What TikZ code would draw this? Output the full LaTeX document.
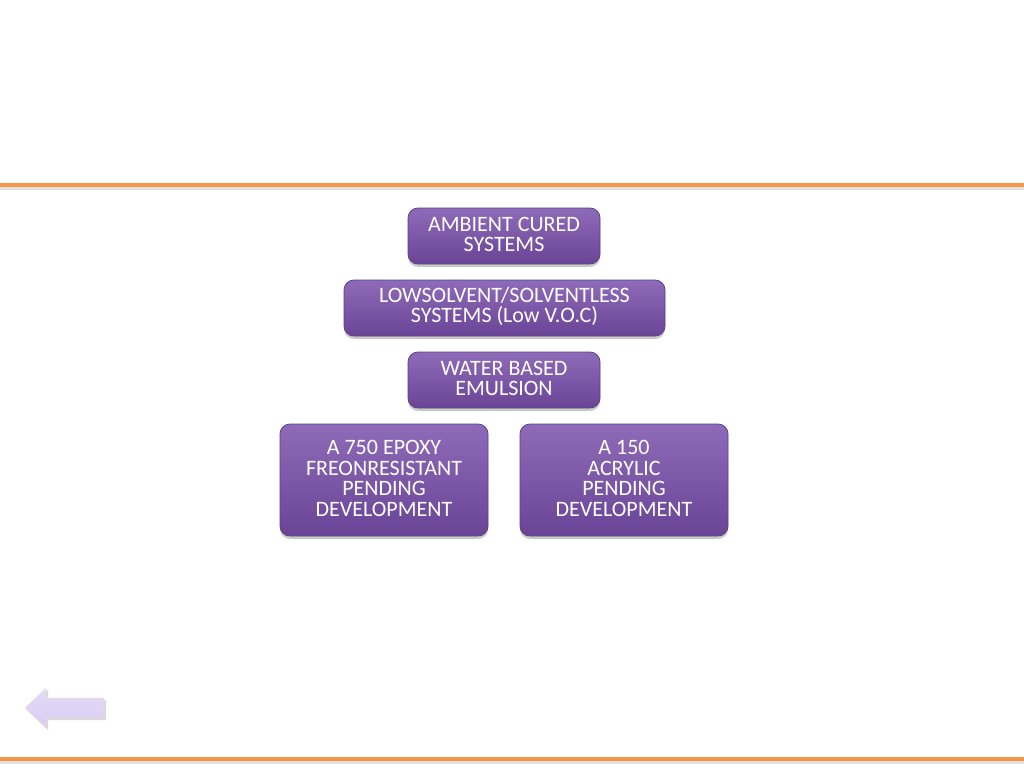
\documentclass[tikz,border=0pt]{standalone}
\usepackage{fontspec}
\setmainfont{Carlito}
\usetikzlibrary{shadows}
\definecolor{orangeline}{HTML}{F79646}
\definecolor{purpletop}{HTML}{8E6BB8}
\definecolor{purplebot}{HTML}{6A4496}
\definecolor{purpleedge}{HTML}{5E3F86}
\definecolor{arrowfill}{HTML}{D9CCF2}
\tikzset{
  box/.style={draw=purpleedge, line width=0.8pt, rounded corners=10pt,
    top color=purpletop, bottom color=purplebot, inner sep=0pt,
    drop shadow={shadow xshift=0pt, shadow yshift=-3pt, opacity=0.35, fill=black!60}},
  boxtext/.style={text=white, align=center, inner sep=0pt,
    font=\fontsize{22}{20.5}\selectfont},
  rule/.style={orangeline, line width=4pt}
}
\begin{document}
\begin{tikzpicture}[x=1pt,y=-1pt]
\useasboundingbox (0,0) rectangle (1024,768);
\fill[white] (0,0) rectangle (1024,768);
% orange rules
\fill[black!12] (0,187) rectangle (1024,190);
\draw[rule] (0,185) -- (1024,185);
\fill[black!12] (0,761) rectangle (1024,764);
\draw[rule] (0,759) -- (1024,759);
% boxes
\node[box, minimum width=192pt, minimum height=56pt] (a) at (504,236) {};
\node[box, minimum width=321pt, minimum height=56pt] (b) at (504.5,308) {};
\node[box, minimum width=192pt, minimum height=56pt] (c) at (504,380) {};
\node[box, minimum width=208pt, minimum height=112pt] (d) at (384,480) {};
\node[box, minimum width=208pt, minimum height=112pt] (e) at (624,480) {};
% texts
\node[boxtext] (at) at ([yshift=1.5pt]a.center) {AMBIENT CURED\\SYSTEMS};
\node[boxtext] (bt) at ([yshift=1.5pt]b.center) {LOWSOLVENT/SOLVENTLESS\\SYSTEMS (Low V.O.C)};
\node[boxtext] (ct) at ([yshift=1.5pt]c.center) {WATER BASED\\EMULSION};
\node[boxtext] (dt) at ([yshift=1.5pt]d.center) {A 750 EPOXY\\FREONRESISTANT\\PENDING\\DEVELOPMENT};
\node[boxtext] (et) at ([yshift=1.5pt]e.center) {A 150\\ACRYLIC\\PENDING\\DEVELOPMENT};
% back arrow
\fill[black!15] (27,710) -- (48,690) -- (48,700) -- (106,700) -- (106,720) -- (48,720) -- (48,730) -- cycle;
\shade[top color=arrowfill!70, bottom color=arrowfill, draw=arrowfill!80!black!30, line width=0.4pt]
  (25,708) -- (46,688) -- (46,698) -- (104,698) -- (104,718) -- (46,718) -- (46,728) -- cycle;
\end{tikzpicture}
\end{document}
